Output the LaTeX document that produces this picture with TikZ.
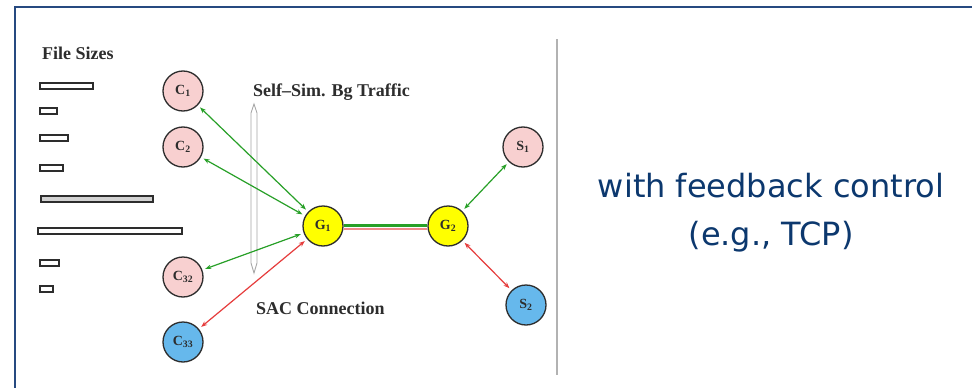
\documentclass[tikz,border=0pt]{standalone}
\usepackage{fontspec}
\setmainfont{Liberation Serif}
\newfontfamily\tahoma{DejaVu Sans}
\usetikzlibrary{arrows.meta}
\definecolor{frameblue}{RGB}{38,74,128}
\definecolor{textblue}{RGB}{12,56,110}
\definecolor{pinkfill}{RGB}{248,208,208}
\definecolor{bluefill}{RGB}{102,184,236}
\definecolor{yellowfill}{RGB}{255,255,0}
\definecolor{arrgreen}{RGB}{40,160,40}
\definecolor{arrred}{RGB}{230,60,60}
\definecolor{labgray}{RGB}{45,45,45}
\begin{document}
\begin{tikzpicture}[x=1pt,y=-1pt,
  host/.style={circle, draw=labgray, line width=1.3pt, minimum size=40pt, inner sep=0pt,
    font=\fontsize{14}{14}\selectfont\bfseries, text=labgray},
  client/.style={host, fill=pinkfill},
  sachost/.style={host, fill=bluefill},
  gw/.style={host, fill=yellowfill},
  flow/.style={{Stealth[length=6pt,width=4.5pt]}-{Stealth[length=6pt,width=4.5pt]}, line width=1.2pt,
    shorten >=3pt, shorten <=3pt},
  gflow/.style={flow, draw=arrgreen},
  rflow/.style={flow, draw=arrred},
  bar/.style={draw=labgray, line width=1.6pt, fill=white},
  lab/.style={font=\fontsize{18}{18}\selectfont\bfseries, text=labgray, inner sep=0pt, anchor=west},
  big/.style={font=\tahoma\fontsize{32}{40}\selectfont, text=textblue, inner sep=0pt, anchor=base},
]
\useasboundingbox (0,0) rectangle (972,388);
\fill[white] (0,0) rectangle (972,388);
% frame
\draw[frameblue, line width=2pt] (15,388) -- (15,7) -- (972,7);
% separator
\draw[gray!60, line width=1.5pt] (557,39) -- (557,375);

% file size bars
\draw[bar] (40,83) rectangle (93,89);
\draw[bar] (40,108) rectangle (57,114);
\draw[bar] (40,135) rectangle (68,141);
\draw[bar] (40,165) rectangle (63,171);
\draw[bar, fill=gray!35] (41,196) rectangle (153,202);
\draw[bar] (38,228) rectangle (182,234);
\draw[bar] (40,260) rectangle (59,266);
\draw[bar] (40,286) rectangle (53,292);

% labels
\node[lab] (fs) at (42,53) {File Sizes};
\node[lab] (ss) at (253,92) {Self--Sim. Bg Traffic};
\node[lab] (sacl) at (256,308) {SAC Connection};

% capsule
\draw[gray!70, line width=0.9pt, fill=white] (254,104) -- (257,113) -- (257,263) -- (254,273) -- (251,263) -- (251,113) -- cycle;

% hosts
\node[client] (C1) at (183,91) {C\textsubscript{1}};
\node[client] (C2) at (183,147) {C\textsubscript{2}};
\node[client] (C32) at (183,277) {C\textsubscript{32}};
\node[sachost] (C33) at (183,342) {C\textsubscript{33}};
\node[gw] (G1) at (323,226) {G\textsubscript{1}};
\node[gw] (G2) at (448,226) {G\textsubscript{2}};
\node[client] (S1) at (523,147) {S\textsubscript{1}};
\node[sachost] (S2) at (526,305) {S\textsubscript{2}};

% connections
\draw[gflow] (C1) -- (G1);
\draw[gflow] (C2) -- (G1);
\draw[gflow] (C32) -- (G1);
\draw[rflow] (C33) -- (G1);
\draw[gflow] (G2) -- (S1);
\draw[rflow] (G2) -- (S2);
\draw[arrred!60, line width=1.5pt] ([yshift=-3pt]G1.east) -- ([yshift=-3pt]G2.west);
\draw[arrgreen, line width=2.5pt] ([yshift=0.5pt]G1.east) -- ([yshift=0.5pt]G2.west);

% right text
\node[big] (fb1) at (771,197) {with feedback control};
\node[big] (fb2) at (771,245) {(e.g., TCP)};
\end{tikzpicture}
\end{document}
